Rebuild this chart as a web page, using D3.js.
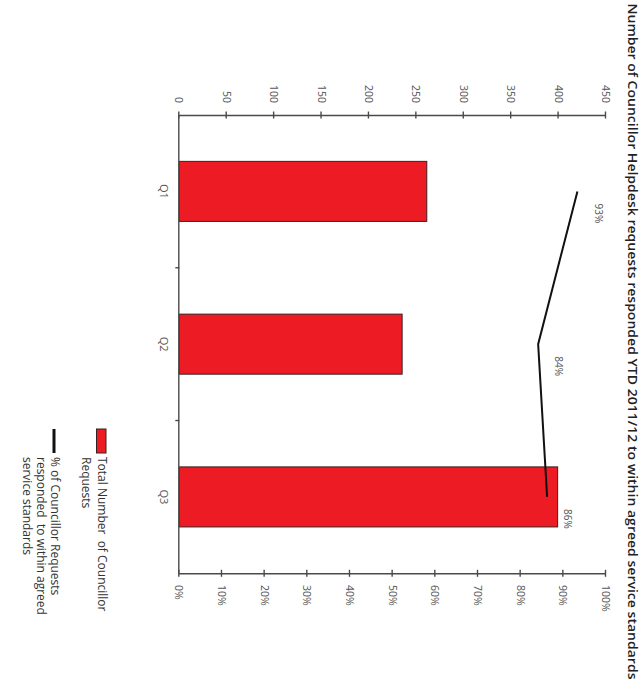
<!DOCTYPE html>
<html>
<head>
<meta charset="utf-8">
<script src="https://cdn.jsdelivr.net/npm/d3@7"></script>
<style>
  html, body { margin: 0; padding: 0; background: #fff; }
  svg { display: block; font-family: "Open Sans", "DejaVu Sans", sans-serif; }
</style>
</head>
<body>
<svg id="chart" width="641" height="683"></svg>
<script>
// ---- data ----
const categories = ["Q1", "Q2", "Q3"];
const requestCounts = [261, 235, 399];
const pctWithinStandard = [93.3, 84.1, 86.2];
const countTicks = [0, 50, 100, 150, 200, 250, 300, 350, 400, 450];
const pctTicks = [0, 10, 20, 30, 40, 50, 60, 70, 80, 90, 100];
const titleText = "Number of Councillor Helpdesk requests responded YTD 2011/12 to within agreed service standards";
const legendBarLines = ["Total Number  of Councillor", "Requests"];
const legendLineLines = ["% of Councillor Requests", "responded  to within agreed", "service standards"];

// ---- layout (unrotated frame, whole chart rotated 90deg clockwise) ----
const svg = d3.select("#chart");
svg.append("rect").attr("width", 641).attr("height", 683).attr("fill", "#fff");
const g = svg.append("g").attr("transform", "translate(641,0) rotate(90)");

const plotLeft = 115, plotRight = 573.3, plotBottom = 461.7, plotTop = 35;
const axisColor = "#4a4a4a";
const labelColor = "#555";

const x = d3.scaleBand().domain(categories).range([plotLeft, plotRight]).padding(0);
const yCount = d3.scaleLinear().domain([0, 450]).range([plotBottom, plotTop]);
const yPct = d3.scaleLinear().domain([0, 100]).range([plotBottom, plotTop]);
const barFrac = 0.393;
const bw = x.bandwidth() * barFrac;

// title
g.append("text")
  .attr("x", 341.5).attr("y", 10)
  .attr("text-anchor", "middle").attr("dominant-baseline", "middle")
  .attr("font-size", 13).attr("font-weight", 600).attr("fill", "#222")
  .attr("textLength", 676).attr("lengthAdjust", "spacingAndGlyphs")
  .text(titleText);

// bars
g.selectAll("rect.bar").data(categories).join("rect")
  .attr("class", "bar")
  .attr("x", c => x(c) + (x.bandwidth() - bw) / 2)
  .attr("width", bw)
  .attr("y", (c, i) => yCount(requestCounts[i]))
  .attr("height", (c, i) => yCount(0) - yCount(requestCounts[i]))
  .attr("fill", "#ED1C24")
  .attr("stroke", "#3a2020").attr("stroke-width", 1);

// count axis (left in unrotated frame)
const axCount = g.append("g").attr("transform", `translate(${plotLeft},0)`)
  .call(d3.axisLeft(yCount).tickValues(countTicks).tickSizeInner(3.5).tickSizeOuter(0).tickPadding(8.5));
axCount.selectAll(".tick line").attr("x1", 3.5).attr("x2", -3.5);

// percent axis (right)
const axPct = g.append("g").attr("transform", `translate(${plotRight},0)`)
  .call(d3.axisRight(yPct).tickValues(pctTicks).tickFormat(d => d + "%").tickSizeInner(3.5).tickSizeOuter(0).tickPadding(8.2));
axPct.selectAll(".tick line").attr("x1", -3.5).attr("x2", 3.5);

[axCount, axPct].forEach(ax => {
  ax.select(".domain").attr("stroke", axisColor).attr("stroke-width", 1.4);
  ax.selectAll(".tick line").attr("stroke", axisColor).attr("stroke-width", 1.4);
  ax.selectAll(".tick text").attr("fill", labelColor).attr("font-size", 10.5)
    .attr("font-family", "'Open Sans', 'DejaVu Sans', sans-serif");
});

// category axis (bottom)
const axCat = g.append("g").attr("transform", `translate(0,${plotBottom})`)
  .call(d3.axisBottom(x).tickSize(0).tickPadding(12));
axCat.select(".domain").attr("stroke", axisColor).attr("stroke-width", 1.4);
axCat.selectAll(".tick text").attr("fill", labelColor).attr("font-size", 11)
  .attr("font-family", "'Open Sans', 'DejaVu Sans', sans-serif");
// boundary ticks between categories
g.selectAll("line.cattick").data(categories.slice(1)).join("line")
  .attr("class", "cattick")
  .attr("x1", c => x(c)).attr("x2", c => x(c))
  .attr("y1", plotBottom).attr("y2", plotBottom + 4)
  .attr("stroke", axisColor).attr("stroke-width", 1.4);

// line series
const pts = categories.map((c, i) => [x(c) + x.bandwidth() / 2, yPct(pctWithinStandard[i])]);
g.append("path")
  .attr("d", d3.line()(pts))
  .attr("fill", "none").attr("stroke", "#111").attr("stroke-width", 2);

// data labels
g.selectAll("text.plabel").data(categories).join("text")
  .attr("class", "plabel")
  .attr("x", (c, i) => pts[i][0] + 22)
  .attr("y", (c, i) => pts[i][1] - 20)
  .attr("text-anchor", "middle").attr("dominant-baseline", "middle")
  .attr("font-size", 10).attr("fill", labelColor)
  .text((c, i) => d3.format(".0f")(pctWithinStandard[i]) + "%");

// legend
g.append("rect").attr("x", 429).attr("y", 535).attr("width", 24).attr("height", 9.5)
  .attr("fill", "#ED1C24").attr("stroke", "#3a2020").attr("stroke-width", 1);
legendBarLines.forEach((t, i) => {
  g.append("text").attr("x", 457).attr("y", 540 + i * 16)
    .attr("dominant-baseline", "middle").attr("font-size", 12).attr("fill", "#333")
    .style("white-space", "pre")
    .text(t);
});
g.append("line").attr("x1", 429).attr("x2", 453).attr("y1", 587).attr("y2", 587)
  .attr("stroke", "#111").attr("stroke-width", 3);
legendLineLines.forEach((t, i) => {
  g.append("text").attr("x", 457).attr("y", 587 + i * 14)
    .attr("dominant-baseline", "middle").attr("font-size", 12).attr("fill", "#333")
    .style("white-space", "pre")
    .text(t);
});
</script>
</body>
</html>
